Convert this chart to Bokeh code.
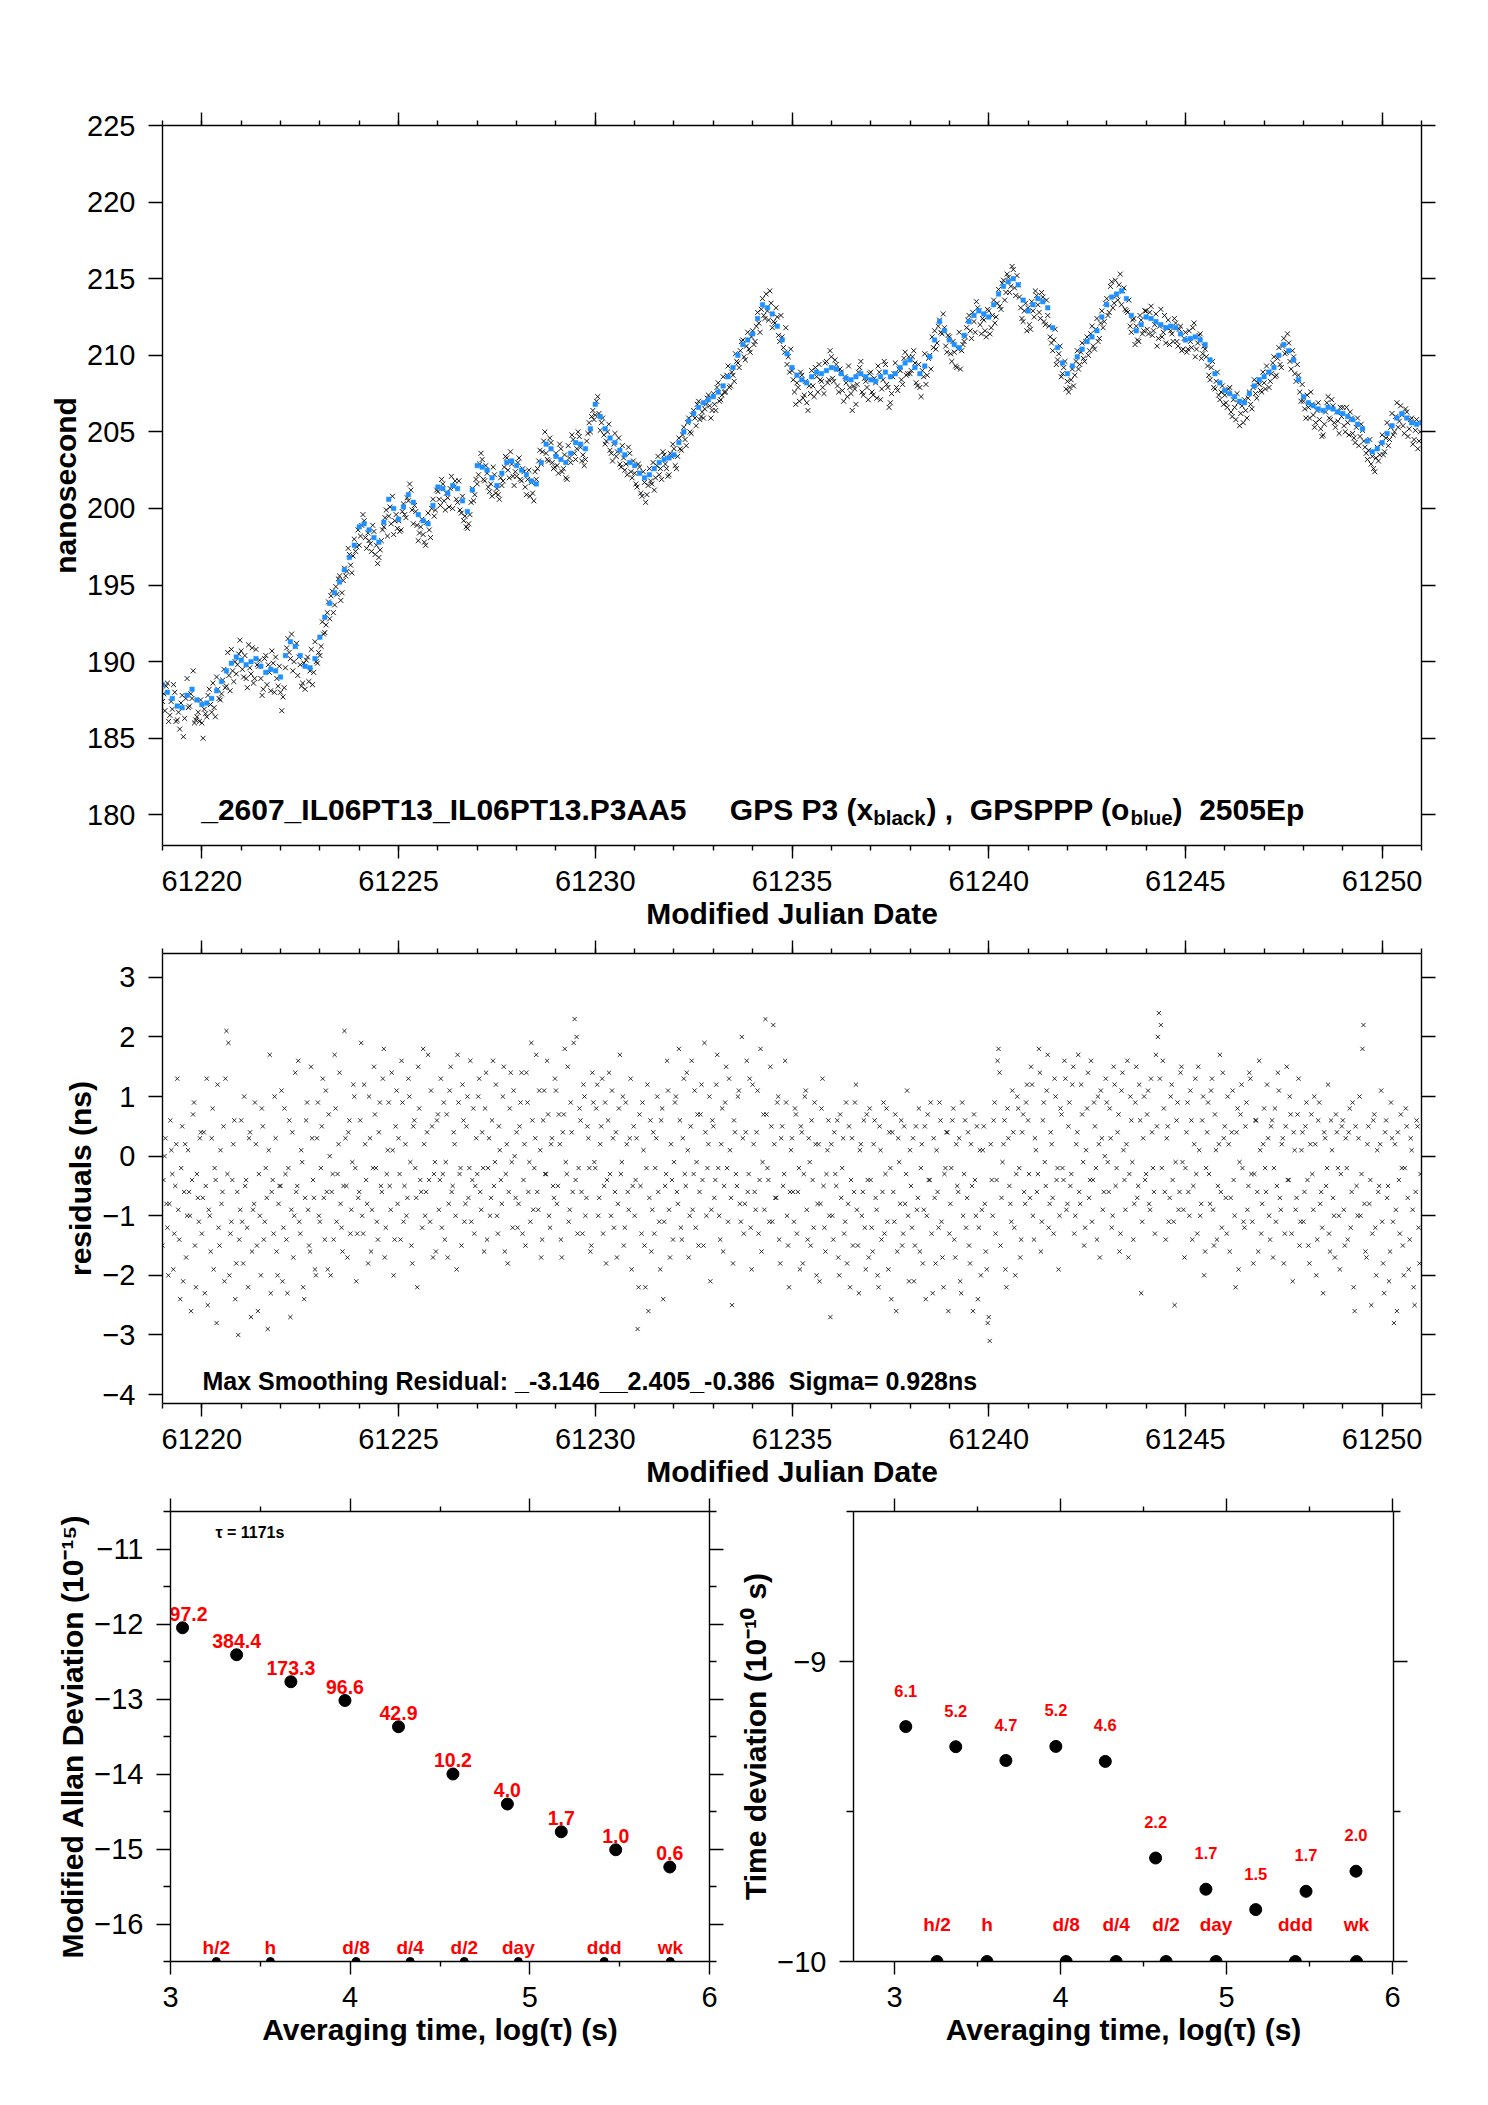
import numpy as np
from bokeh.plotting import figure
from bokeh.models import (LinearAxis, FixedTicker, CustomJSTickFormatter, Label,
                          ColumnDataSource, Range1d)
from bokeh.layouts import column, row
from bokeh.embed import file_html
from bokeh.resources import INLINE
from bokeh.core.properties import value

FONT = "Liberation Sans"

# ---------------------------------------------------------------- data
MJD_START = 61219.0
PPP_STEP = 1.0 / 8.0     # GPSPPP (blue) sampling, days
P3_STEP = 1.0 / 16.0     # GPS P3 (black) sampling, days
RES_STEP = 1.0 / 20.0    # residual sampling, days

ppp_ns = [
    188.5, 188.0, 187.6, 187.1, 187.0, 187.8, 188.2, 187.5,
    187.2, 187.3, 187.6, 188.1, 188.7, 189.4, 189.9, 190.3,
    190.1, 189.8, 190.0, 190.2, 189.7, 189.3, 189.5, 189.4,
    189.0, 190.4, 191.3, 191.0, 190.4, 189.7, 189.6, 190.2,
    191.6, 192.9, 193.8, 194.5, 195.2, 196.0, 196.8, 197.6,
    198.8, 199.0, 198.6, 198.1, 197.8, 199.1, 200.6, 200.0,
    199.3, 200.1, 200.9, 200.4, 199.6, 199.2, 199.0, 200.2,
    201.4, 201.3, 201.0, 201.5, 201.3, 200.5, 199.8, 201.2,
    202.8, 202.7, 202.5, 202.0, 201.5, 202.3, 203.0, 203.1,
    202.8, 202.5, 202.2, 201.8, 201.6, 203.0, 204.2, 203.9,
    203.4, 203.2, 203.0, 203.6, 204.3, 204.2, 203.9, 205.2,
    206.8, 206.0, 205.2, 204.6, 204.3, 203.8, 203.5, 203.0,
    202.8, 202.3, 202.0, 202.2, 202.6, 203.0, 203.2, 203.3,
    203.5, 204.3, 205.0, 205.7, 206.2, 206.6, 206.9, 207.1,
    207.3, 207.6, 208.0, 208.6, 209.2, 210.0, 210.7, 211.0,
    211.4, 212.4, 213.3, 213.1, 212.7, 211.9, 211.0, 210.1,
    209.2, 208.7, 208.4, 208.2, 208.6, 208.9, 208.8, 209.0,
    209.2, 209.1, 208.8, 208.5, 208.4, 208.6, 208.8, 208.6,
    208.4, 208.3, 208.6, 208.9, 208.6, 208.8, 209.2, 209.5,
    209.7, 209.2, 208.8, 209.3, 209.9, 211.0, 212.2, 211.6,
    211.0, 210.7, 210.5, 211.3, 212.2, 212.6, 212.9, 212.7,
    212.5, 213.3, 214.0, 214.5, 214.8, 215.0, 214.6, 213.6,
    212.9, 213.3, 213.7, 213.5, 213.1, 211.8, 210.5, 209.5,
    208.8, 209.3, 209.9, 210.4, 210.9, 211.2, 211.6, 212.5,
    213.3, 213.8, 214.0, 214.2, 213.7, 212.6, 211.6, 212.0,
    212.5, 212.4, 212.2, 212.0, 211.8, 211.9, 211.8, 211.4,
    211.0, 211.1, 211.2, 211.0, 210.7, 209.7, 208.8, 208.2,
    207.7, 207.5, 207.3, 207.0, 206.9, 207.5, 208.0, 208.4,
    208.6, 208.9, 209.2, 210.0, 210.7, 210.3, 209.7, 208.4,
    207.3, 206.9, 206.7, 206.5, 206.4, 206.6, 206.5, 206.3,
    206.2, 206.0, 205.8, 205.5, 205.2, 204.4, 203.7, 203.9,
    204.3, 204.9, 205.4, 205.9, 206.2, 205.9, 205.6, 205.5,
    205.6,
]

# GPS P3 samples, first set (epochs at half steps)
p3a_ns = [
    187.9, 188.4, 186.1, 187.4, 188.5, 186.1, 186.7, 187.3, 185.1, 187.6, 187.0, 187.9, 189.4, 186.2, 186.7, 187.5,
    185.0, 186.6, 187.8, 187.2, 188.6, 186.4, 188.2, 187.5, 188.8, 188.3, 190.6, 188.1, 189.4, 190.0, 189.8, 191.4,
    189.5, 190.4, 188.3, 189.6, 190.9, 188.9, 189.8, 190.1, 187.8, 190.2, 188.5, 189.3, 190.7, 188.0, 188.9, 189.7,
    186.8, 188.3, 190.9, 190.6, 191.8, 190.0, 191.2, 190.3, 188.4, 189.9, 190.1, 188.7, 190.8, 189.3, 190.0, 190.6,
    191.0, 191.8, 192.4, 193.9, 194.3, 193.2, 194.9, 195.4, 194.0, 195.3, 195.6, 197.4, 196.3, 196.9, 197.2, 198.6,
    198.2, 199.6, 198.1, 198.4, 197.7, 198.9, 197.0, 196.4, 197.3, 198.6, 199.4, 198.2, 200.1, 200.8, 199.2, 198.7,
    198.5, 199.8, 199.6, 200.7, 201.6, 199.9, 200.2, 198.9, 198.4, 199.3, 197.8, 199.1, 198.6, 200.0, 199.5, 201.2,
    200.6, 201.9, 200.5, 201.0, 200.1, 202.1, 201.4, 200.6, 201.8, 199.7, 199.2, 198.8, 199.0, 200.4, 200.5, 201.9,
    202.2, 203.6, 201.9, 202.8, 201.4, 201.6, 202.7, 201.0, 200.9, 202.0, 201.8, 203.4, 202.5, 203.7, 202.1, 202.4,
    203.0, 201.9, 202.6, 201.4, 201.9, 200.8, 201.0, 202.4, 202.6, 203.8, 203.7, 205.0, 203.2, 204.6, 203.0, 202.7,
    202.8, 204.2, 202.4, 203.5, 201.9, 203.3, 204.8, 203.6, 203.9, 204.7, 203.1, 202.8, 204.4, 205.6, 206.0, 205.8,
    207.0, 206.2, 205.6, 204.8, 204.4, 205.5, 203.6, 204.2, 203.4, 204.6, 202.7, 203.3, 202.9, 204.0, 202.4, 203.1,
    201.6, 202.9, 201.0, 202.4, 200.4, 201.5, 201.8, 203.0, 202.0, 203.4, 202.6, 203.7, 202.9, 202.1, 203.6, 204.2,
    202.8, 203.4, 203.9, 204.8, 204.5, 205.6, 205.0, 206.1, 205.9, 206.8, 205.8, 206.3, 206.5, 207.2, 206.7, 206.4,
    206.8, 207.9, 207.0, 207.4, 207.6, 208.7, 207.9, 208.9, 208.3, 209.6, 209.2, 210.9, 209.9, 210.6, 210.4, 211.2,
    210.7, 211.9, 212.1, 213.0, 212.6, 214.0, 212.3, 213.4, 212.2, 213.1, 211.3, 212.6, 210.5, 211.8, 209.9, 210.4,
    208.4, 206.8, 207.9, 208.9, 207.2, 208.3, 206.4, 207.5, 208.0, 209.2, 207.6, 208.4, 207.9, 209.5, 208.2, 210.3,
    208.5, 209.7, 208.0, 209.1, 207.7, 208.6, 207.3, 207.9, 206.4, 207.8, 208.1, 209.2, 207.6, 208.5, 207.9, 208.8,
    207.6, 208.5, 207.2, 208.9, 207.8, 209.6, 208.1, 206.6, 207.5, 208.8, 207.9, 209.1, 208.4, 209.8, 208.7, 209.9,
    209.0, 210.3, 208.2, 209.4, 207.3, 208.6, 208.1, 209.8, 209.1, 210.5, 210.4, 211.9, 211.5, 212.7, 210.6, 211.3,
    210.1, 210.9, 209.3, 210.4, 209.1, 210.7, 211.2, 212.3, 211.6, 212.8, 211.5, 213.1, 212.0, 212.4, 211.6, 213.0,
    211.4, 212.6, 212.1, 213.4, 213.2, 214.7, 213.6, 215.3, 214.1, 215.8, 214.4, 215.2, 213.8, 212.4, 212.9, 211.6,
    212.0, 213.5, 212.5, 213.9, 212.8, 214.1, 212.2, 213.6, 211.9, 210.8, 211.0, 209.4, 210.1, 208.6, 209.2, 207.8,
    207.6, 208.4, 208.0, 209.6, 209.1, 210.2, 209.8, 210.9, 210.0, 211.4, 210.6, 211.7, 210.9, 212.1, 211.8, 213.4,
    212.6, 214.5, 213.1, 214.9, 213.6, 215.3, 214.2, 213.0, 212.8, 211.9, 212.3, 210.7, 211.0, 212.6, 211.4, 212.9,
    211.7, 212.8, 211.3, 212.0, 210.6, 211.9, 211.2, 212.6, 211.8, 210.7, 211.4, 212.4, 210.9, 211.7, 210.3, 211.1,
    210.2, 211.6, 210.5, 212.1, 210.4, 211.3, 209.8, 210.6, 209.9, 208.7, 209.2, 207.9, 208.3, 207.4, 207.6, 206.8,
    206.9, 207.8, 206.3, 207.1, 205.8, 206.9, 206.2, 205.6, 206.4, 207.2, 206.8, 207.9, 207.5, 208.2, 207.7, 208.9,
    207.8, 208.9, 208.3, 209.5, 208.6, 209.8, 209.4, 210.6, 210.1, 211.4, 209.6, 210.3, 208.8, 209.4, 207.6, 208.1,
    206.5, 207.4, 205.9, 206.8, 205.3, 206.4, 205.8, 204.7, 205.5, 206.9, 205.9, 207.1, 205.6, 206.3, 204.9, 206.0,
    205.4, 206.6, 204.8, 205.9, 204.6, 205.3, 204.1, 205.5, 204.4, 203.6, 203.8, 202.9, 202.6, 203.3, 203.1, 204.2,
    203.5, 204.6, 204.1, 205.3, 204.8, 206.0, 205.3, 206.7, 205.4, 206.5, 204.7, 205.8, 204.2, 205.1, 203.9, 205.0,
]

# GPS P3 samples, second set (epochs at whole steps)
p3b_ns = [
    187.4, 186.8, 188.6, 186.5, 186.9, 188.0, 186.2, 185.6, 187.8, 186.3, 188.9, 187.1, 187.6, 186.0, 186.4, 186.1,
    186.0, 186.9, 186.4, 188.2, 186.7, 187.0, 189.0, 187.6, 187.9, 189.5, 188.4, 189.1, 190.8, 188.7, 189.2, 190.5,
    190.7, 189.0, 188.9, 191.1, 189.2, 188.6, 190.8, 189.7, 188.9, 188.2, 190.4, 189.8, 188.1, 189.9, 190.3, 188.4,
    188.0, 187.7, 189.6, 191.5, 190.2, 189.4, 191.0, 189.1, 189.8, 188.6, 188.2, 190.3, 189.4, 188.5, 191.3, 189.9,
    190.4, 192.6, 191.9, 193.2, 192.8, 194.6, 193.7, 194.4, 195.6, 194.5, 196.1, 195.9, 197.0, 195.8, 198.0, 197.5,
    197.6, 198.9, 199.2, 197.4, 197.9, 197.2, 198.5, 197.6, 196.8, 197.9, 198.8, 199.9, 199.5, 199.0, 198.3, 199.6,
    199.2, 198.6, 200.3, 199.4, 200.5, 201.2, 199.0, 199.8, 197.9, 198.8, 198.3, 197.6, 199.7, 198.1, 200.6, 199.9,
    201.1, 200.2, 201.6, 199.9, 200.7, 201.3, 200.0, 201.8, 200.4, 199.9, 200.8, 199.5, 198.7, 199.6, 201.3, 200.9,
    201.6, 202.9, 203.2, 201.8, 202.3, 201.1, 200.8, 202.2, 201.3, 200.6, 201.5, 202.7, 203.3, 202.0, 202.9, 201.5,
    202.1, 203.3, 201.8, 202.4, 200.9, 202.5, 201.7, 200.5, 201.9, 203.1, 202.9, 204.4, 203.6, 203.1, 204.3, 202.6,
    203.6, 202.3, 203.9, 202.6, 202.0, 204.1, 203.0, 204.5, 203.2, 205.0, 204.0, 203.5, 203.2, 204.9, 205.0, 206.4,
    206.1, 207.3, 205.1, 205.9, 204.2, 205.0, 203.8, 203.1, 204.9, 203.7, 202.9, 204.1, 202.5, 202.2, 203.6, 202.0,
    202.3, 201.4, 202.7, 200.8, 201.7, 200.9, 202.6, 201.6, 201.2, 202.8, 202.2, 201.9, 203.5, 202.6, 202.2, 203.4,
    203.9, 202.6, 204.6, 203.8, 205.3, 204.1, 205.9, 204.9, 206.4, 205.4, 207.0, 206.0, 205.9, 206.8, 207.4, 205.9,
    207.5, 206.4, 208.2, 207.1, 208.6, 207.6, 209.3, 208.0, 208.7, 210.1, 209.5, 210.3, 211.0, 209.7, 211.5, 210.2,
    211.6, 210.9, 212.8, 211.5, 213.7, 212.4, 212.9, 214.2, 211.8, 212.1, 212.5, 210.9, 211.2, 210.2, 209.4, 208.9,
    209.0, 207.6, 208.2, 207.0, 208.7, 207.4, 206.9, 208.0, 209.0, 207.3, 208.6, 209.4, 208.3, 207.5, 209.6, 208.4,
    209.9, 208.3, 209.4, 207.6, 208.9, 207.0, 208.2, 209.3, 207.5, 208.0, 206.8, 208.9, 209.6, 207.4, 208.3, 207.1,
    208.9, 207.4, 208.2, 209.3, 207.1, 208.4, 209.4, 207.9, 206.9, 208.6, 209.5, 207.7, 209.0, 208.1, 210.2, 208.8,
    208.8, 209.9, 209.5, 208.0, 207.9, 209.0, 210.1, 208.7, 210.0, 211.2, 211.6, 210.8, 212.3, 211.4, 211.8, 210.2,
    211.2, 209.6, 210.2, 209.2, 211.5, 210.3, 210.9, 211.8, 212.6, 211.1, 212.2, 213.5, 212.9, 211.4, 212.3, 211.2,
    212.9, 211.8, 213.6, 212.5, 214.3, 213.0, 214.9, 214.1, 215.1, 214.5, 215.6, 213.9, 214.6, 213.1, 212.2, 213.4,
    213.1, 211.7, 212.9, 214.2, 213.3, 212.4, 213.8, 212.0, 212.6, 211.2, 210.3, 211.7, 209.7, 210.6, 208.8, 209.6,
    208.3, 207.9, 209.1, 208.7, 210.3, 209.4, 210.8, 209.6, 211.2, 210.3, 211.9, 210.4, 212.4, 211.1, 212.9, 212.2,
    213.7, 212.8, 214.8, 213.4, 213.9, 214.6, 213.3, 214.4, 212.9, 213.6, 211.5, 212.4, 211.9, 210.9, 212.3, 211.6,
    212.9, 211.4, 213.2, 211.6, 212.7, 211.1, 213.0, 211.5, 210.8, 212.3, 211.6, 210.9, 212.1, 210.6, 211.9, 210.4,
    211.5, 210.4, 210.9, 211.8, 209.9, 210.8, 211.4, 210.1, 210.4, 209.3, 208.4, 209.6, 207.8, 208.9, 207.1, 208.0,
    207.4, 206.6, 207.9, 206.0, 206.6, 207.5, 205.4, 206.7, 207.1, 205.9, 207.6, 206.5, 208.4, 207.2, 208.1, 207.6,
    208.2, 209.3, 207.9, 208.8, 209.9, 208.7, 210.5, 209.2, 211.1, 210.2, 210.8, 209.1, 209.9, 208.3, 208.7, 207.0,
    207.0, 205.9, 206.6, 207.6, 206.1, 205.6, 206.9, 205.2, 204.8, 206.3, 207.3, 205.8, 206.7, 205.3, 205.7, 206.6,
    206.6, 205.0, 205.6, 206.3, 204.9, 204.3, 205.9, 204.7, 205.1, 204.0, 203.2, 204.5, 203.4, 202.4, 204.0, 203.5,
    204.8, 203.7, 205.6, 204.5, 206.2, 205.0, 206.9, 205.7, 206.1, 204.9, 206.3, 205.2, 205.9, 204.5, 205.8, 204.4,
]

# smoothing residuals, first set (epochs at half steps)
resid_a_ns = [
    -0.4, 0.3, -1.2, -0.8, 0.1, -1.9, -0.5, 1.3, -1.4, -0.2, -2.1, 0.2, -1.0, -0.6, -2.6, 0.7, -1.5, -0.3, -1.1, 0.4,
    -0.7, -2.3, 1.3, -0.9, -1.6, 0.8, -0.2, -2.8, -1.2, 0.1, -0.6, -2.1, 2.1, 1.9, -1.3, -0.4, 0.6, -1.8, -3.0, -0.9,
    -1.1, 1.0, -0.4, -2.2, 0.4, -1.6, -0.8, 0.2, -2.6, -1.0, 0.8, -1.4, -0.2, -2.9, 1.7, -0.6, -1.3, 0.3, -2.0, -0.5,
    1.1, -1.2, -0.3, -2.3, 0.6, -0.9, -1.7, 1.4, -0.5, -1.1, 0.1, -2.2, -0.7, 0.9, -1.5, 1.5, -0.4, -1.9, 0.3, -1.0,
    -0.2, 1.3, -1.4, -0.6, 0.7, -2.0, -0.3, 1.7, -1.1, 0.2, -0.8, -1.6, 2.1, -0.5, 0.4, -1.3, -0.1, 1.0, -2.1, -0.7,
    0.6, -1.0, 1.2, -0.4, -1.8, 0.3, -0.9, 1.5, -0.2, -1.4, 0.9, -0.6, 1.8, -1.2, 0.1, -0.5, 1.4, -2.0, 0.5, -0.8,
    -0.3, 1.6, -1.1, 0.2, -0.7, 1.0, -1.5, 0.5, -0.2, -2.2, 0.8, -0.6, 1.8, -1.0, 0.4, -0.4, 1.1, -1.7, -0.1, 0.6,
    -0.9, 1.3, -0.3, -1.4, 0.7, -0.8, 1.5, -0.5, 0.2, -1.9, 0.9, -0.2, 1.2, -1.1, 0.5, -0.7, 1.6, -0.4, -1.3, 0.3,
    1.0, -0.6, 0.4, -1.6, 1.4, -0.2, -1.0, 0.6, -0.5, 1.2, -1.3, 0.1, -0.8, 1.5, -0.3, -1.8, 0.8, -0.1, 1.1, -0.7,
    -1.2, 0.5, 1.4, -0.4, -1.5, 0.9, -0.1, 1.9, -0.9, 0.3, -0.6, 1.1, -1.7, 0.6, -0.3, 1.6, -1.0, 0.2, -0.5, 1.3,
    -0.8, 0.7, -1.4, 0.4, 1.8, -0.3, -1.1, 0.9, -0.6, 2.3, 2.0, -0.2, 0.6, -1.3, 1.0, -0.7, 0.3, -1.6, 1.4, -0.1,
    0.8, -1.0, 0.2, 1.3, -0.5, -1.8, 0.6, -0.3, 1.1, -1.2, 0.4, -0.8, 1.7, -0.1, -1.5, 0.9, -0.6, 0.3, -1.9, 0.5,
    -0.4, -2.9, 0.7, -1.3, 0.1, -2.2, 1.2, -0.7, -1.6, 0.4, -0.2, 1.0, -1.1, 0.6, -2.4, -0.5, 1.6, -0.9, 0.2, -1.4,
    0.9, -0.6, 1.8, -1.2, 0.3, -0.3, 1.4, -1.7, 0.5, -0.9, 1.1, -0.1, -1.5, 0.7, -0.4, 1.9, -1.0, 0.2, -2.1, 0.6,
    -0.7, 1.2, -0.2, -1.4, 0.8, -0.5, 1.5, -1.1, 0.1, -2.5, 0.6, -0.3, 1.0, -0.8, 2.0, -1.3, 0.4, -0.6, 1.3, -1.9,
    0.2, -0.9, 1.1, -0.4, -1.6, 0.7, 2.3, -0.2, -1.1, 0.5, 2.2, -0.7, 0.9, -1.4, 0.3, -0.5, 1.6, -1.0, -2.2, 0.1,
    -0.6, 0.8, -1.3, -0.2, 0.5, -1.8, 1.0, -0.9, 0.3, -1.5, -0.4, 0.9, -2.0, 0.2, -0.8, 1.3, -1.2, -0.3, 0.6, -2.7,
    -1.0, 0.4, -0.5, -1.7, 0.7, -0.2, -1.3, 0.9, -0.8, -2.2, 0.3, -0.6, 1.2, -1.5, 0.1, -1.0, 0.6, -1.9, -0.4, 0.8,
    -1.2, 0.2, -0.7, -2.0, 0.5, -1.4, 0.9, -0.3, -1.1, 0.4, -2.4, -0.6, 0.7, -1.6, -0.1, 0.6, -1.3, -0.8, 1.1, -2.1,
    -0.5, 0.3, -1.5, -0.9, 0.8, -0.2, -1.8, 0.5, -1.0, -0.4, 0.9, -2.3, -0.7, 0.1, -1.2, 0.6, -1.7, -0.3, 0.4, -2.6,
    -0.8, 0.6, -1.4, 0.2, -0.6, -2.1, 0.9, -0.3, -1.2, 0.4, -1.8, -0.5, 0.7, -1.0, -2.4, 0.1, -0.9, 0.5, -1.6, -2.8,
    -3.1, -0.4, 0.6, -1.3, 1.6, 1.4, -0.7, 0.2, -1.9, 0.8, -0.5, -1.1, 0.4, -2.0, 1.0, -0.2, -1.4, 0.7, -0.8, 1.2,
    -0.3, 1.5, -1.0, 0.3, -0.6, 1.8, -1.6, 0.6, -0.1, 1.1, -1.2, 0.4, -0.7, 1.3, -0.4, -1.9, 0.8, -0.2, 1.6, -0.9,
    0.5, -0.5, 1.2, -1.3, 0.2, 1.7, -0.8, 0.7, -1.5, 0.1, 1.4, -0.4, -1.1, 0.9, -0.2, 1.0, -1.7, 0.3, -0.6, 1.3,
    -0.1, 0.8, -1.2, 1.5, -0.5, 0.4, -1.6, 1.1, 0.1, -0.9, 1.6, -0.3, 0.6, -1.4, 0.9, -0.7, 1.2, -2.3, 0.3, -0.4,
    0.7, -0.8, 1.3, -0.2, -1.3, 0.5, 2.4, 2.2, 1.6, -0.6, 0.3, -1.1, 1.0, -0.4, -2.5, 0.6, -0.9, 1.4, -0.1, -1.7,
    0.4, -0.6, 1.1, -1.4, 0.2, -0.3, 1.5, -1.0, 0.6, -2.0, -0.2, 0.9, -0.8, 1.3, -1.5, 0.1, -0.5, 1.7, -1.2, 0.3,
    -0.7, 1.0, -1.6, 0.4, -0.4, -2.2, 0.8, -0.1, 1.2, -1.1, 0.5, -0.9, 1.4, -0.3, -1.8, 0.6, -0.6, 1.6, -1.3, 0.2,
    -0.2, 1.2, -1.0, 0.5, -1.7, 0.8, -0.5, 1.1, -0.9, 0.3, -1.3, 1.5, -0.4, 0.7, -2.1, 0.1, -0.7, 1.3, -1.1, 0.4,
    -0.6, 0.9, -1.5, 0.2, -0.3, 1.0, -2.0, 0.6, -0.8, -1.2, 0.4, -0.5, 1.2, -1.6, 0.1, -1.0, 0.7, -0.2, -1.9, 0.5,
    -0.9, 0.3, -1.4, 0.8, -0.6, -2.2, 0.5, -1.0, 1.0, -0.3, 2.2, -1.6, 0.2, -0.8, -2.5, 0.6, -1.2, 0.1, -0.5, 1.1,
    -1.8, 0.4, -0.7, -2.1, 0.9, -1.1, 0.2, -2.6, -0.4, 0.7, -1.5, -0.2, 0.5, -1.9, 0.3, -0.9, -2.5, 0.6, -1.2, -0.3,
]

# smoothing residuals, second set (epochs at whole steps)
resid_b_ns = [
    -1.5, 0.0, -0.8, -2.0, 0.6, -0.3, -1.3, 0.2, -0.9, -2.4, 0.5, -0.6, -1.7, 0.1, -1.0, -0.4, 0.9, -2.2, -0.7, 0.3,
    -1.3, 0.4, -0.5, -2.5, -1.0, 0.3, -1.9, -0.4, 1.2, -1.5, -0.8, 0.5, 1.3, -0.3, -2.0, -1.1, 0.2, -2.4, -0.6, -1.4,
    0.6, -1.8, -0.5, -1.2, 0.3, -2.7, -0.9, 0.9, -1.5, -0.3, -2.0, 0.5, -1.1, -0.7, 0.1, -2.3, -0.4, 1.0, -1.6, -0.8,
    -0.5, -2.1, 0.8, -1.4, -0.2, -2.7, 0.4, -1.0, -0.6, 1.6, -1.3, -0.1, -2.4, 0.6, -0.9, -1.6, 0.3, -0.7, -2.0, 0.9,
    -1.1, 0.5, -0.7, 1.1, -1.9, 0.0, -0.6, -1.4, 0.8, -0.3, 1.4, -1.2, -0.5, 0.3, -1.7, 0.6, -0.9, 1.2, -0.2, -1.3,
    -0.6, 1.9, -1.3, 0.2, -0.8, 1.0, -1.6, -0.2, 0.7, -1.1, 0.4, -0.5, 1.3, -1.7, -0.3, 0.9, -0.9, 0.1, -1.4, 1.1,
    0.3, -1.4, 0.9, -0.5, -1.0, 1.3, -0.1, -1.8, 0.6, -0.7, 1.5, -0.4, -1.2, 0.2, -0.6, 1.7, -1.1, 0.5, -0.3, -1.6,
    0.7, -0.4, -1.2, 0.9, -0.1, -1.7, 1.1, -0.6, 0.4, -1.0, 1.7, -0.3, -1.5, 0.6, -0.8, 1.0, -0.2, -1.1, 0.8, -0.5,
    -0.3, 1.3, -0.9, -0.2, 0.8, -1.4, 0.3, -0.7, 1.6, -0.1, -1.0, 0.5, -0.4, 1.0, -1.6, 0.2, -0.6, 1.4, -1.2, 0.0,
    0.4, -0.8, 0.9, -1.3, 0.2, 1.4, -0.6, -1.1, 0.6, -0.2, 1.7, -0.9, 0.1, -1.4, 1.1, -0.3, 0.7, -1.2, 0.3, -0.7,
    1.1, -0.5, 0.2, -1.7, 0.7, -0.1, 1.5, -0.9, 0.4, 1.9, -0.4, -1.3, 0.8, -0.6, 1.2, -1.0, 0.5, -0.2, -1.5, 0.9,
    -0.2, 1.2, -0.7, 0.5, -1.3, 0.9, -0.4, 1.4, -1.0, 0.3, -0.6, -1.7, 0.8, -0.3, 1.0, -1.2, 0.2, -0.9, 1.3, -0.5,
    -1.0, 0.3, -2.2, -0.5, 0.9, -1.5, -0.2, -2.6, 0.6, -0.9, -1.3, 0.3, -0.6, -1.9, 0.8, -1.1, -0.3, 1.1, -1.7, -0.4,
    -0.1, 1.0, -0.8, 0.6, -1.4, 1.3, -0.5, 0.1, -1.0, 1.6, -0.3, -1.2, 0.7, -0.6, 1.2, -1.5, 0.4, -0.2, 1.0, -0.9,
    0.5, -0.4, 1.7, -1.0, 0.2, -1.6, 0.9, -0.2, 1.3, -0.7, -1.8, 0.4, -0.5, 1.1, -1.1, 0.3, -0.8, 1.6, -0.3, -1.2,
    1.2, -0.6, 0.4, -1.3, 1.8, -0.1, -0.9, 0.7, -0.4, 1.5, -1.1, 0.2, -0.7, 1.0, -1.8, 0.5, -0.3, 0.9, -1.5, -0.6,
    0.3, -1.1, 0.7, -0.6, -1.9, 0.4, -0.3, 1.1, -1.4, -0.1, 0.6, -1.2, 0.2, -0.8, -2.1, 0.8, -0.5, -1.6, 0.1, -1.0,
    0.2, -1.4, -0.3, 0.6, -2.0, -0.7, 0.3, -1.1, -1.8, 0.5, -0.4, -1.5, 0.9, -0.9, -2.3, 0.2, -0.6, -1.2, 0.7, -1.7,
    -0.4, -1.6, 0.6, -0.9, -2.2, 0.1, -0.6, -1.3, 0.8, -1.9, -0.2, 0.4, -1.1, -2.6, 0.3, -0.8, -1.5, 0.5, -0.3, -1.0,
    0.1, -1.2, -2.1, 0.5, -0.7, -1.6, 0.2, -0.9, -2.4, 0.7, -0.4, -1.3, 0.3, -1.8, -0.6, 0.9, -1.1, -2.2, -0.2, 0.4,
    -1.3, -0.2, 0.8, -1.7, -0.5, 0.3, -2.3, -1.0, 0.6, -0.7, -1.5, 0.2, -2.6, -0.4, 0.5, -1.2, -2.0, 0.1, -0.8, -1.9,
    -2.7, 0.2, -1.0, 0.9, -0.4, 1.8, -1.5, -0.1, 0.6, -2.2, 0.3, -0.8, 1.1, -1.2, -0.3, 0.8, -1.7, 0.4, -0.6, 0.9,
    0.6, -0.7, 1.2, -1.4, 0.1, -0.3, 1.4, -1.1, 0.9, -0.5, 1.7, -0.8, 0.2, -1.3, 1.0, -0.2, -1.0, 0.7, -0.4, 1.3,
    -0.8, 0.9, -0.3, 1.5, -1.0, 0.4, -0.6, 1.2, -0.1, -1.2, 0.8, -0.7, 1.6, -0.4, 0.5, -1.4, 0.2, 1.1, -0.9, 0.0,
    0.9, -0.6, 0.3, -1.0, 1.2, -0.2, 0.7, -1.3, 1.4, -0.4, 0.2, -1.7, 1.0, -0.1, -0.8, 1.5, -0.5, 0.6, -1.1, 1.0,
    -0.3, 1.1, -0.9, 0.4, -0.6, 1.7, 2.0, 1.3, -0.2, 0.8, -1.4, 0.5, -0.7, 1.2, -1.1, -0.1, 0.9, -0.6, 1.5, -0.9,
    -0.2, 0.9, -1.0, 0.6, -0.5, 1.3, -1.3, 0.1, -0.8, 1.0, -1.6, 0.4, -0.3, 1.1, -0.9, 0.7, -1.4, 0.2, -0.6, 1.4,
    0.5, -1.3, 0.2, -0.7, 1.1, -1.0, 0.4, -1.9, 0.7, -0.2, -1.2, 0.9, -0.5, 1.3, -1.1, -0.3, 0.6, -1.6, 0.1, -0.8,
    0.8, -0.6, 0.3, -1.4, 0.6, -0.2, -1.1, 1.4, -0.7, 0.2, -1.8, 0.5, -0.4, 1.0, -1.3, 0.4, -0.9, 0.7, -1.5, 0.1,
    -1.1, 0.5, -0.4, -1.8, 0.7, -0.9, 0.2, -1.4, 0.9, -0.6, -2.3, 0.3, -0.2, -1.3, 0.6, -0.7, -1.7, 0.4, -1.0, -0.3,
    0.6, -1.5, -0.2, 0.4, -1.2, 0.9, -2.6, -0.5, 0.3, -1.0, 1.8, -0.8, -1.7, 0.5, -0.4, -1.3, 0.7, -2.0, -0.6, 0.2,
    -1.1, -2.3, 0.6, -0.5, -1.6, 0.3, -2.8, -0.9, 0.4, -1.3, -0.2, -2.0, 0.8, -0.7, -1.4, 0.1, -2.2, -0.6, 0.5, -1.8,
]

# stability panels
log_tau = [3.067, 3.368, 3.670, 3.971, 4.269, 4.572, 4.875, 5.175, 5.478, 5.779]
log_mdev = [-12.05, -12.41, -12.77, -13.02, -13.37, -14.00, -14.40, -14.77, -15.01, -15.24]
mdev_labels = ["97.2", "384.4", "173.3", "96.6", "42.9", "10.2", "4.0", "1.7", "1.0", "0.6"]
log_tdev = [-9.217, -9.284, -9.330, -9.283, -9.333, -9.655, -9.759, -9.827, -9.766, -9.699]
tdev_labels = ["6.1", "5.2", "4.7", "5.2", "4.6", "2.2", "1.7", "1.5", "1.7", "2.0"]
mark_log_tau = [3.255, 3.556, 4.033, 4.334, 4.635, 4.936, 5.414, 5.782]
mark_names = ["h/2", "h", "d/8", "d/4", "d/2", "day", "ddd", "wk"]
mdev_floor = -16.5
tdev_floor = -10.0

NB = "\u00a0"
title_parts = ["_2607_IL06PT13_IL06PT13.P3AA5", "GPS P3 (x", "black",
               ") , " + NB + "GPSPPP (o", "blue", ")" + NB + " 2505Ep"]
resid_text = "Max Smoothing Residual: _-3.146__2.405_-0.386" + NB + " Sigma= 0.928ns"
tau_text = "\u03c4 = 1171s"

# ---------------------------------------------------------------- helpers
ppp_mjd = MJD_START + np.arange(len(ppp_ns)) * PPP_STEP
p3a_mjd = MJD_START + (np.arange(len(p3a_ns)) + 0.5) * P3_STEP
p3b_mjd = MJD_START + np.arange(len(p3b_ns)) * P3_STEP
res_a_mjd = MJD_START + (np.arange(len(resid_a_ns)) + 0.5) * RES_STEP
res_b_mjd = MJD_START + np.arange(len(resid_b_ns)) * RES_STEP

FMT = "return (tick < 0 ? '\\u2212' + (-tick) : '' + tick);"


def style_axis(ax, show, tick_out, minor_out, standoff=13, lbl_standoff=0):
    ax.axis_line_color = "black"
    ax.axis_line_width = 1.4
    ax.major_tick_line_color = "black"
    ax.major_tick_line_width = 1.4
    ax.minor_tick_line_color = "black"
    ax.minor_tick_line_width = 1.4
    ax.major_tick_in = 0
    ax.major_tick_out = tick_out
    ax.minor_tick_in = 0
    ax.minor_tick_out = minor_out
    ax.formatter = CustomJSTickFormatter(code=FMT)
    ax.major_label_text_font = FONT
    if show:
        ax.major_label_text_color = "black"
        ax.major_label_text_font_size = "29px"
        ax.major_label_standoff = standoff
    else:
        ax.major_label_text_color = None
        ax.major_label_text_font_size = "1px"
        ax.major_label_standoff = 0
    ax.axis_label_text_font = FONT
    ax.axis_label_text_font_style = "bold"
    ax.axis_label_text_font_size = "30px"
    ax.axis_label_text_color = "black"
    ax.axis_label_standoff = lbl_standoff


def panel(width, height, borders, xr, yr, xt, xm, yt, ym, xlabel, ylabel,
          x_minor_out=5, y_minor_out=7):
    left, right, top, bottom = borders
    p = figure(width=width, height=height, output_backend="svg", toolbar_location=None,
               x_range=Range1d(*xr), y_range=Range1d(*yr),
               min_border_left=left, min_border_right=right,
               min_border_top=top, min_border_bottom=bottom)
    p.grid.visible = False
    p.outline_line_color = None
    p.background_fill_color = "white"
    p.border_fill_color = "white"
    xtick = FixedTicker(ticks=xt, minor_ticks=xm)
    ytick = FixedTicker(ticks=yt, minor_ticks=ym)
    p.xaxis.ticker = xtick
    p.yaxis.ticker = ytick
    style_axis(p.xaxis[0], True, 13, x_minor_out, standoff=12, lbl_standoff=3)
    style_axis(p.yaxis[0], True, 14, y_minor_out, standoff=13, lbl_standoff=2)
    p.xaxis.axis_label = xlabel
    p.yaxis.axis_label = ylabel
    top_ax = LinearAxis(ticker=xtick)
    style_axis(top_ax, False, 13, x_minor_out)
    right_ax = LinearAxis(ticker=ytick)
    style_axis(right_ax, False, 14, y_minor_out)
    p.add_layout(top_ax, "above")
    p.add_layout(right_ax, "right")
    return p


# ---------------------------------------------------------------- top panel
days = list(range(61219, 61252))
p1 = panel(1480, 938, (162, 59, 125, 93), (61219, 61251), (178, 225),
           list(range(61220, 61251, 5)), days,
           list(range(180, 226, 5)), [], "Modified Julian Date", "nanosecond",
           x_minor_out=5, y_minor_out=0)
p1.scatter(p3a_mjd, p3a_ns, marker="x", size=7, line_color="black", line_width=0.9)
p1.scatter(p3b_mjd, p3b_ns, marker="x", size=7, line_color="black", line_width=0.9)
p1.scatter(ppp_mjd, ppp_ns, marker="square", size=4.5, fill_color="#1e90ff",
           line_color="#1e90ff", line_width=0.5)

base_y = 180.37
sub_y = 179.85
title_x = [38.7, 567.3, 710.7, 764.0, 968.0, 1010.0]
title_size = ["30px", "30px", "20.5px", "30px", "20.5px", "30px"]
title_ybase = [base_y, base_y, sub_y, base_y, sub_y, base_y]
for txt, dx, fs, yy in zip(title_parts, title_x, title_size, title_ybase):
    p1.add_layout(Label(x=61219, y=yy, x_offset=dx, text=txt, text_font=FONT,
                        text_font_size=fs, text_font_style="bold",
                        text_baseline="alphabetic", text_align="left", text_color="black"))

# ---------------------------------------------------------------- residual panel
p2 = panel(1480, 558, (162, 59, 15, 93), (61219, 61251), (-4.15, 3.4),
           list(range(61220, 61251, 5)), days,
           list(range(-4, 4)), [], "Modified Julian Date", "residuals (ns)",
           x_minor_out=5, y_minor_out=0)
p2.scatter(res_a_mjd, resid_a_ns, marker="x", size=6, line_color="black", line_width=0.8)
p2.scatter(res_b_mjd, resid_b_ns, marker="x", size=6, line_color="black", line_width=0.8)
p2.add_layout(Label(x=61219, y=-3.78, x_offset=40, text=resid_text, text_font=FONT,
                    text_font_size="25px", text_font_style="bold",
                    text_baseline="alphabetic", text_align="left", text_color="black"))

# ---------------------------------------------------------------- MDEV panel
p3 = panel(736, 600, (170, 27, 15, 135), (3, 6), (-16.5, -10.5),
           [3, 4, 5, 6], [3.5, 4.5, 5.5],
           [-16, -15, -14, -13, -12, -11], [-16.5, -15.5, -14.5, -13.5, -12.5, -11.5, -10.5],
           "Averaging time, log(\u03c4) (s)", "Modified Allan Deviation (10\u207b\u00b9\u2075)")
src3 = ColumnDataSource(dict(x=log_tau, y=log_mdev, t=mdev_labels,
                             dx=[6, 0, 0, 0, 0, 0, 0, 0, 0, 0]))
p3.scatter("x", "y", source=src3, size=12, color="black")
p3.text("x", "y", text="t", source=src3, x_offset="dx", y_offset=-14,
        text_color="red", text_font=value(FONT), text_font_size="19.5px",
        text_font_style="bold", text_align="center", text_baseline="middle")
src3m = ColumnDataSource(dict(x=mark_log_tau, y=[mdev_floor] * len(mark_log_tau), t=mark_names))
p3.scatter("x", "y", source=src3m, size=8, color="black")
p3.text("x", "y", text="t", source=src3m, y_offset=-14,
        text_color="red", text_font=value(FONT), text_font_size="19px",
        text_font_style="bold", text_align="center", text_baseline="middle")
p3.add_layout(Label(x=3.25, y=-10.785, text=tau_text, text_font=FONT,
                    text_font_size="16px", text_font_style="bold",
                    text_baseline="middle", text_align="left", text_color="black"))

# ---------------------------------------------------------------- TDEV panel
p4 = panel(744, 600, (117, 87, 15, 135), (2.752, 6.005), (-10.0, -8.5),
           [3, 4, 5, 6], [3.5, 4.5, 5.5],
           [-10, -9], [-9.5, -8.5],
           "Averaging time, log(\u03c4) (s)", "Time deviation (10\u207b\u00b9\u2070 s)")
src4 = ColumnDataSource(dict(x=log_tau, y=log_tdev, t=tdev_labels))
p4.scatter("x", "y", source=src4, size=12, color="black")
p4.text("x", "y", text="t", source=src4, y_offset=-36,
        text_color="red", text_font=value(FONT), text_font_size="16.5px",
        text_font_style="bold", text_align="center", text_baseline="middle")
src4m = ColumnDataSource(dict(x=mark_log_tau, y=[tdev_floor] * len(mark_log_tau), t=mark_names))
p4.scatter("x", "y", source=src4m, size=12, color="black")
p4.text("x", "y", text="t", source=src4m, y_offset=-37,
        text_color="red", text_font=value(FONT), text_font_size="19px",
        text_font_style="bold", text_align="center", text_baseline="middle")

layout = column(p1, p2, row(p3, p4))
open("out.html", "w").write(file_html(layout, INLINE, title="GPS P3 vs GPSPPP"))
